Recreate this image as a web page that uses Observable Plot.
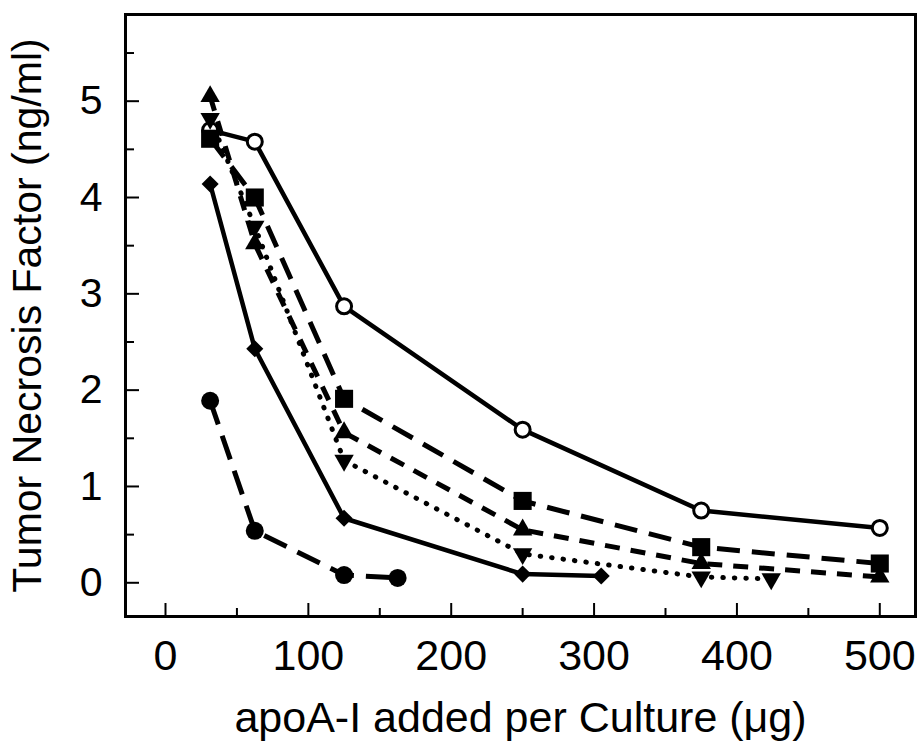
<!DOCTYPE html>
<html><head><meta charset="utf-8">
<script src="https://cdn.jsdelivr.net/npm/d3@7"></script>
<script src="https://cdn.jsdelivr.net/npm/@observablehq/plot@0.6"></script>
<style>
body{margin:0;background:#fff}
#chart svg{display:block}
</style>
</head><body><div id="chart"></div>
<script>
// Data
const doseX = [31.25, 62.5, 125, 250, 375, 500];
const openCircleY = [4.70, 4.58, 2.87, 1.59, 0.75, 0.57];
const squareY     = [4.61, 4.00, 1.91, 0.85, 0.37, 0.20];
const triUpY      = [5.05, 3.52, 1.56, 0.55, 0.20, 0.06];
const triDownX = [31.25, 62.5, 125, 250, 375, 424];
const triDownY = [4.82, 3.70, 1.27, 0.30, 0.06, 0.04];
const diamondX = [31.25, 62.5, 125, 250, 305];
const diamondY = [4.14, 2.43, 0.67, 0.09, 0.07];
const filledX = [31.25, 62.5, 125, 162.5];
const filledY = [1.89, 0.54, 0.08, 0.05];
const xTicks = [0, 100, 200, 300, 400, 500];
const xMinor = [50, 150, 250, 350, 450];
const yTicks = [0, 1, 2, 3, 4, 5];
const yMinor = [0.5, 1.5, 2.5, 3.5, 4.5, 5.5];
const xLabel = "apoA-I added per Culture (\u03bcg)";
const yLabel = "Tumor Necrosis Factor (ng/ml)";

const zip = (xs, ys) => xs.map((x, i) => ({x, y: ys[i]}));
const openCircle = zip(doseX, openCircleY);
const square = zip(doseX, squareY);
const triUp = zip(doseX, triUpY);
const triDown = zip(triDownX, triDownY);
const diamond = zip(diamondX, diamondY);
const filled = zip(filledX, filledY);

const W = 918, H = 743, ML = 125, MR = 3, MT = 14, MB = 127;
const PW = W - ML - MR, PH = H - MT - MB;
const font = "'Liberation Sans', Arial, Helvetica, sans-serif";

const lineOpts = {x: "x", y: "y", stroke: "black", strokeWidth: 4.5, strokeLinejoin: "round"};

const chart = Plot.plot({
  width: W, height: H,
  marginLeft: ML, marginRight: MR, marginTop: MT, marginBottom: MB,
  style: {fontFamily: font, background: "white", color: "black"},
  x: {domain: [-28, 525]},
  y: {domain: [-0.35, 5.9]},
  marks: [
    // inward ticks
    Plot.ruleX(xTicks, {x: d => d, insetTop: PH - 13, stroke: "black", strokeWidth: 2}),
    Plot.ruleX(xMinor, {x: d => d, insetTop: PH - 8, stroke: "black", strokeWidth: 2}),
    Plot.ruleY(yTicks, {y: d => d, insetRight: PW - 14, stroke: "black", strokeWidth: 2}),
    Plot.ruleY(yMinor, {y: d => d, insetRight: PW - 9, stroke: "black", strokeWidth: 2}),
    Plot.axisX(xTicks, {tickSize: 0, tickPadding: 23, fontSize: 43, tickFormat: d3.format("d"), label: null}),
    Plot.axisX([], {tickSize: 0, fontSize: 43, label: xLabel, labelAnchor: "center", labelOffset: 115, labelArrow: "none"}),
    Plot.axisY(yTicks, {tickSize: 0, tickPadding: 23, fontSize: 41, tickFormat: d3.format("d"),
      label: yLabel, labelAnchor: "center", labelOffset: 114, labelArrow: "none"}),
    Plot.frame({stroke: "black", strokeWidth: 3}),
    // lines
    Plot.line(openCircle, {...lineOpts}),
    Plot.line(square, {...lineOpts, strokeWidth: 5, strokeDasharray: "23,12", strokeLinecap: "butt"}),
    Plot.line(triUp, {...lineOpts, strokeWidth: 5, strokeDasharray: "15,11", strokeLinecap: "butt"}),
    Plot.line(triDown, {...lineOpts, strokeWidth: 5, strokeDasharray: "0.5,11", strokeLinecap: "round"}),
    Plot.line(diamond, {...lineOpts}),
    Plot.line(filled, {...lineOpts, strokeWidth: 5, strokeDasharray: "25,12", strokeLinecap: "butt"}),
    // markers
    Plot.dot(openCircle, {x: "x", y: "y", r: 7.5, fill: "white", stroke: "black", strokeWidth: 3}),
    Plot.dot(diamond, {x: "x", y: "y", r: 7.7, symbol: "diamond2", fill: "black", stroke: "none"}),
    Plot.dot(filled, {x: "x", y: "y", r: 9, fill: "black", stroke: "none"}),
    Plot.dot(square, {x: "x", y: "y", r: 10.2, symbol: "square", fill: "black", stroke: "none"}),
    Plot.dot(triUp, {x: "x", y: "y", r: 7.2, symbol: "triangle", fill: "black", stroke: "none"}),
    Plot.dot(triDown, {x: "x", y: "y", r: 7.2, symbol: "triangle", rotate: 180, fill: "black", stroke: "none"})
  ]
});
document.getElementById("chart").appendChild(chart);
</script>
</body></html>
